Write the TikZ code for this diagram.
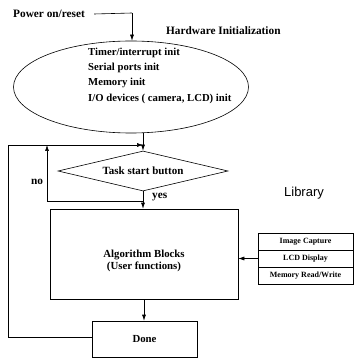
\documentclass[tikz,border=0pt]{standalone}
\usepackage{fontspec}
\setmainfont{Liberation Serif}
\setsansfont{Liberation Sans}
\usetikzlibrary{shapes.geometric,arrows.meta}
\tikzset{
  initell/.style = {draw, ellipse, line width=0.6pt, minimum width=235pt,
                    minimum height=92pt, inner sep=0pt},
  initlist/.style = {font=\fontsize{10.7}{15.3}\selectfont\bfseries, align=left,
                     inner sep=0pt},
  taskdia/.style = {draw, diamond, line width=0.6pt, aspect=4.25, inner sep=0pt,
                    minimum width=170pt, minimum height=40pt,
                    font=\fontsize{11}{12}\selectfont\bfseries},
  algbox/.style  = {draw, line width=0.6pt, minimum width=188pt, minimum height=90pt},
  algtext/.style = {font=\fontsize{10.8}{12}\selectfont\bfseries, align=center},
  donebox/.style = {draw, line width=0.6pt, minimum width=105pt, minimum height=36pt,
                    font=\fontsize{10.8}{12}\selectfont\bfseries},
  libcell/.style = {draw, line width=0.6pt, minimum width=95pt, minimum height=17pt,
                    inner sep=0pt, font=\fontsize{8}{9}\selectfont\bfseries},
  lbl/.style     = {font=\fontsize{11.3}{12}\selectfont\bfseries, inner sep=0pt},
  flow/.style    = {-{Latex[length=6pt,width=4pt]}, line width=0.6pt},
  link/.style    = {line width=0.6pt},
}
\begin{document}
\begin{tikzpicture}[x=1pt, y=-1pt]
    \useasboundingbox (0,0) rectangle (355,358);

    % hardware initialization
    \node[lbl, anchor=west] (pwr) at (13,14) {Power on/reset};
    \coordinate (pwrturn) at (132,13);
    \node[initell] (hw) at (131,87) {};
    \node[lbl, anchor=west] (hwtitle) at (166,31) {Hardware Initialization};
    \node[initlist, anchor=north west] (hwlist) at (88,47.5)
      {Timer/interrupt init\\Serial ports init\\Memory init\\I/O devices ( camera, LCD) init};
    \draw[link] (pwr.east) ++(9,0) -- (pwrturn);
    \draw[flow] (pwrturn) -- (pwrturn |- hw.north);

    % task loop
    \node[taskdia] (task) at (143,171) {Task start button};
    \coordinate (merge) at (143,145);
    \coordinate (nofork) at (143,201);
    \coordinate (nocorner) at (47,201);
    \coordinate (notop) at (47,145);
    \draw[link] (task.north |- hw.south) -- (merge);
    \draw[flow] (merge) -- (task.north);
    \draw[flow] (nofork) -- (nocorner) -- (notop);
    \node[lbl] (nolbl) at (37,182) {no};

    % user code
    \node[algbox] (alg) at (144,254) {};
    \node[algtext] (algtxt) at (144,261) {Algorithm Blocks\\(User functions)};
    \draw[flow] (task.south) -- (task.south |- alg.north);
    \node[lbl, anchor=west] (yeslbl) at (152,197) {yes};
    \node[donebox] (done) at (144.5,339) {Done};
    \draw[flow] (alg.south) -- (alg.south |- done.north);
    \coordinate (backbot) at (8,337);
    \coordinate (backtop) at (8,145);
    \draw[flow] (done.west |- backbot) -- (backbot) -- (backtop) -- (merge);

    % library
    \node[font=\sffamily\fontsize{13}{14}\selectfont, inner sep=0pt] (libtitle) at (304,193) {Library};
    \node[libcell] (lib1) at (305.5,241.5) {Image Capture};
    \node[libcell] (lib2) at (305.5,258.5) {LCD Display};
    \node[libcell] (lib3) at (305.5,275.5) {Memory Read/Write};
    \draw[flow] (lib2.west) -- (alg.east |- lib2.west);
\end{tikzpicture}
\end{document}
